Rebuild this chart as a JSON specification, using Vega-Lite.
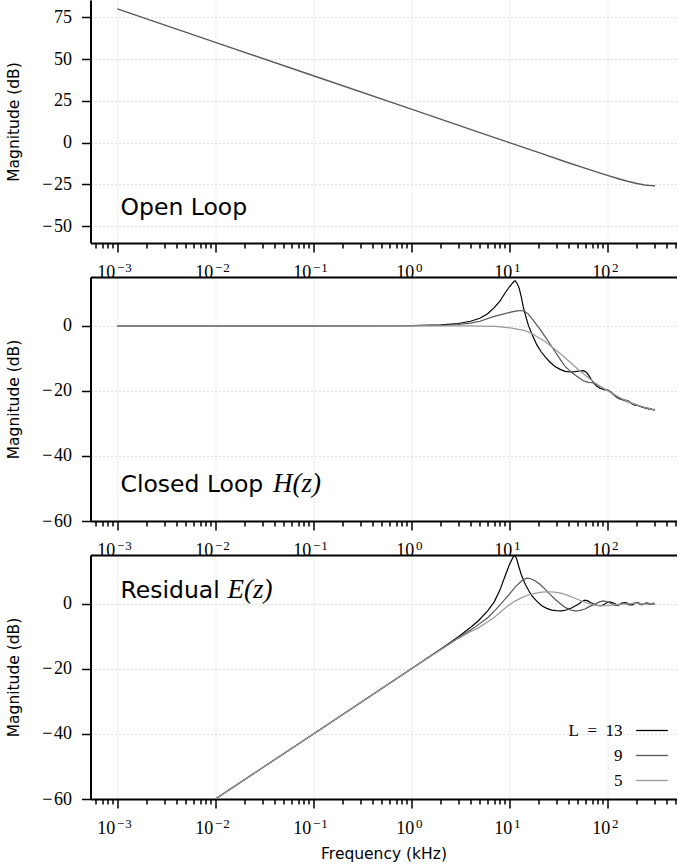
{
  "$schema": "https://vega.github.io/schema/vega-lite/v6.json",
  "background": "white",
  "padding": {"left": 5.5, "top": 0, "right": 0, "bottom": 3},
  "spacing": 34,
  "bounds": "flush",
  "resolve": {"scale": {"color": "independent"}},
  "datasets": {
    "open": [
      {"f": 0.001, "db": 80}, {"f": 0.01, "db": 60}, {"f": 0.1, "db": 40}, {"f": 1, "db": 20},
      {"f": 5, "db": 6.0}, {"f": 10, "db": 0.0}, {"f": 20, "db": -6.0}, {"f": 40, "db": -12.0},
      {"f": 60, "db": -15.4}, {"f": 80, "db": -17.8}, {"f": 100, "db": -19.6}, {"f": 130, "db": -21.6},
      {"f": 160, "db": -23.1}, {"f": 200, "db": -24.4}, {"f": 240, "db": -25.3}, {"f": 280, "db": -25.7},
      {"f": 306, "db": -25.8}
    ],
    "closed": [
      {"L": "13", "f": 0.001, "db": 0}, {"L": "13", "f": 0.1, "db": 0}, {"L": "13", "f": 1, "db": 0.05},
      {"L": "13", "f": 2, "db": 0.3}, {"L": "13", "f": 3, "db": 0.7}, {"L": "13", "f": 4, "db": 1.4},
      {"L": "13", "f": 5, "db": 2.3}, {"L": "13", "f": 6, "db": 3.7}, {"L": "13", "f": 7, "db": 5.6},
      {"L": "13", "f": 8, "db": 7.6}, {"L": "13", "f": 9, "db": 10.0}, {"L": "13", "f": 10, "db": 12.0},
      {"L": "13", "f": 10.6, "db": 12.9}, {"L": "13", "f": 11.1, "db": 13.6}, {"L": "13", "f": 11.45, "db": 13.85},
      {"L": "13", "f": 12.0, "db": 13.0}, {"L": "13", "f": 12.6, "db": 11.5}, {"L": "13", "f": 13.3, "db": 8.5},
      {"L": "13", "f": 13.9, "db": 5.6}, {"L": "13", "f": 15, "db": 2.0}, {"L": "13", "f": 15.6, "db": 0.2},
      {"L": "13", "f": 17, "db": -2.6}, {"L": "13", "f": 19, "db": -5.8}, {"L": "13", "f": 21, "db": -7.9},
      {"L": "13", "f": 23.1, "db": -9.5}, {"L": "13", "f": 26, "db": -11.2}, {"L": "13", "f": 29.2, "db": -12.5},
      {"L": "13", "f": 33, "db": -13.4}, {"L": "13", "f": 37, "db": -14.0}, {"L": "13", "f": 42, "db": -14.2},
      {"L": "13", "f": 47, "db": -14.1}, {"L": "13", "f": 52, "db": -13.9}, {"L": "13", "f": 57, "db": -13.8},
      {"L": "13", "f": 61, "db": -14.3}, {"L": "13", "f": 64, "db": -15.1}, {"L": "13", "f": 68, "db": -16.4},
      {"L": "13", "f": 72, "db": -17.5}, {"L": "13", "f": 78, "db": -18.6}, {"L": "13", "f": 84, "db": -19.2},
      {"L": "13", "f": 92, "db": -19.6}, {"L": "13", "f": 102, "db": -19.8}, {"L": "13", "f": 110, "db": -20.6},
      {"L": "13", "f": 120, "db": -21.6}, {"L": "13", "f": 130, "db": -22.3}, {"L": "13", "f": 140, "db": -22.6},
      {"L": "13", "f": 152, "db": -22.8}, {"L": "13", "f": 164, "db": -23.1}, {"L": "13", "f": 176, "db": -23.9},
      {"L": "13", "f": 190, "db": -24.4}, {"L": "13", "f": 205, "db": -24.5}, {"L": "13", "f": 220, "db": -24.9},
      {"L": "13", "f": 235, "db": -25.2}, {"L": "13", "f": 250, "db": -25.3}, {"L": "13", "f": 265, "db": -25.6},
      {"L": "13", "f": 280, "db": -25.5}, {"L": "13", "f": 295, "db": -25.9}, {"L": "13", "f": 306, "db": -25.6},

      {"L": "9", "f": 0.001, "db": 0}, {"L": "9", "f": 0.1, "db": 0}, {"L": "9", "f": 1, "db": 0.02},
      {"L": "9", "f": 2, "db": 0.15}, {"L": "9", "f": 3, "db": 0.4}, {"L": "9", "f": 4, "db": 0.8},
      {"L": "9", "f": 5, "db": 1.4}, {"L": "9", "f": 7, "db": 2.9}, {"L": "9", "f": 10.6, "db": 4.3},
      {"L": "9", "f": 12, "db": 4.6}, {"L": "9", "f": 13.4, "db": 4.7}, {"L": "9", "f": 14.5, "db": 4.3},
      {"L": "9", "f": 15.6, "db": 3.6}, {"L": "9", "f": 17, "db": 2.2}, {"L": "9", "f": 19, "db": 0.3},
      {"L": "9", "f": 21, "db": -1.5}, {"L": "9", "f": 23.1, "db": -3.3}, {"L": "9", "f": 26, "db": -5.6},
      {"L": "9", "f": 29.2, "db": -7.9}, {"L": "9", "f": 33, "db": -10.3}, {"L": "9", "f": 37, "db": -12.5},
      {"L": "9", "f": 42, "db": -14.0}, {"L": "9", "f": 46.8, "db": -15.1}, {"L": "9", "f": 52, "db": -16.1},
      {"L": "9", "f": 57, "db": -16.9}, {"L": "9", "f": 64, "db": -17.4}, {"L": "9", "f": 70, "db": -17.5},
      {"L": "9", "f": 76, "db": -17.8}, {"L": "9", "f": 84, "db": -18.6}, {"L": "9", "f": 91, "db": -19.2},
      {"L": "9", "f": 100, "db": -19.8}, {"L": "9", "f": 110, "db": -20.4}, {"L": "9", "f": 122, "db": -21.6},
      {"L": "9", "f": 134, "db": -22.5}, {"L": "9", "f": 150, "db": -23.0}, {"L": "9", "f": 165, "db": -23.5},
      {"L": "9", "f": 180, "db": -23.9}, {"L": "9", "f": 200, "db": -24.4}, {"L": "9", "f": 220, "db": -24.8},
      {"L": "9", "f": 242, "db": -25.1}, {"L": "9", "f": 265, "db": -25.4}, {"L": "9", "f": 285, "db": -25.7},
      {"L": "9", "f": 306, "db": -25.8},

      {"L": "5", "f": 0.001, "db": 0}, {"L": "5", "f": 1, "db": 0}, {"L": "5", "f": 2, "db": -0.02},
      {"L": "5", "f": 4, "db": -0.05}, {"L": "5", "f": 5, "db": -0.1}, {"L": "5", "f": 7.15, "db": -0.2},
      {"L": "5", "f": 10.6, "db": -0.7}, {"L": "5", "f": 14.5, "db": -1.5}, {"L": "5", "f": 17, "db": -2.4},
      {"L": "5", "f": 19, "db": -3.3}, {"L": "5", "f": 23.1, "db": -4.8}, {"L": "5", "f": 28, "db": -6.8},
      {"L": "5", "f": 34.2, "db": -8.9}, {"L": "5", "f": 42, "db": -11.3}, {"L": "5", "f": 50.7, "db": -13.5},
      {"L": "5", "f": 62, "db": -15.6}, {"L": "5", "f": 74.8, "db": -17.6}, {"L": "5", "f": 90, "db": -19.2},
      {"L": "5", "f": 110.6, "db": -20.7}, {"L": "5", "f": 135, "db": -22.1}, {"L": "5", "f": 164, "db": -23.3},
      {"L": "5", "f": 200, "db": -24.3}, {"L": "5", "f": 242, "db": -25.1}, {"L": "5", "f": 280, "db": -25.6},
      {"L": "5", "f": 306, "db": -25.8}
    ],
    "resid": [
      {"L": "13", "f": 0.001, "db": -80}, {"L": "13", "f": 0.01, "db": -60}, {"L": "13", "f": 0.1, "db": -40},
      {"L": "13", "f": 1, "db": -20}, {"L": "13", "f": 2, "db": -13.9}, {"L": "13", "f": 3, "db": -10.2},
      {"L": "13", "f": 4, "db": -7.3}, {"L": "13", "f": 4.83, "db": -5.2}, {"L": "13", "f": 6, "db": -2.2},
      {"L": "13", "f": 7, "db": 0.6}, {"L": "13", "f": 8, "db": 4.2}, {"L": "13", "f": 9, "db": 8.4},
      {"L": "13", "f": 10, "db": 12.0}, {"L": "13", "f": 10.6, "db": 13.6}, {"L": "13", "f": 11.2, "db": 15.0},
      {"L": "13", "f": 11.8, "db": 14.0}, {"L": "13", "f": 12.4, "db": 11.7}, {"L": "13", "f": 13.2, "db": 9.0},
      {"L": "13", "f": 14.5, "db": 6.0}, {"L": "13", "f": 16, "db": 3.7}, {"L": "13", "f": 16.9, "db": 2.5},
      {"L": "13", "f": 19, "db": 0.8}, {"L": "13", "f": 21.4, "db": -0.6}, {"L": "13", "f": 24, "db": -1.4},
      {"L": "13", "f": 27, "db": -1.95}, {"L": "13", "f": 30, "db": -2.1}, {"L": "13", "f": 34.2, "db": -2.15},
      {"L": "13", "f": 38, "db": -1.9}, {"L": "13", "f": 43, "db": -1.3}, {"L": "13", "f": 50, "db": -0.2},
      {"L": "13", "f": 55, "db": 0.7}, {"L": "13", "f": 59, "db": 1.1}, {"L": "13", "f": 63, "db": 0.9},
      {"L": "13", "f": 68, "db": 0.3}, {"L": "13", "f": 75, "db": -0.3}, {"L": "13", "f": 81, "db": -0.6},
      {"L": "13", "f": 87, "db": -0.6}, {"L": "13", "f": 95, "db": 0.0}, {"L": "13", "f": 100, "db": 0.4},
      {"L": "13", "f": 106, "db": 0.6}, {"L": "13", "f": 112, "db": 0.4}, {"L": "13", "f": 118, "db": 0.1},
      {"L": "13", "f": 124, "db": -0.3}, {"L": "13", "f": 129, "db": -0.4}, {"L": "13", "f": 135, "db": -0.2},
      {"L": "13", "f": 140, "db": 0.1}, {"L": "13", "f": 146, "db": 0.35}, {"L": "13", "f": 152, "db": 0.4},
      {"L": "13", "f": 158, "db": 0.2}, {"L": "13", "f": 165, "db": -0.1}, {"L": "13", "f": 172, "db": -0.3},
      {"L": "13", "f": 180, "db": -0.3}, {"L": "13", "f": 188, "db": 0.0}, {"L": "13", "f": 195, "db": 0.2},
      {"L": "13", "f": 203, "db": 0.3}, {"L": "13", "f": 210, "db": 0.2}, {"L": "13", "f": 218, "db": -0.1},
      {"L": "13", "f": 225, "db": -0.2}, {"L": "13", "f": 233, "db": -0.2}, {"L": "13", "f": 240, "db": 0.0},
      {"L": "13", "f": 248, "db": 0.2}, {"L": "13", "f": 255, "db": 0.2}, {"L": "13", "f": 263, "db": 0.0},
      {"L": "13", "f": 270, "db": -0.2}, {"L": "13", "f": 278, "db": -0.2}, {"L": "13", "f": 285, "db": 0.0},
      {"L": "13", "f": 292, "db": 0.2}, {"L": "13", "f": 300, "db": 0.1}, {"L": "13", "f": 306, "db": 0.0},

      {"L": "9", "f": 0.001, "db": -80}, {"L": "9", "f": 0.01, "db": -60}, {"L": "9", "f": 0.1, "db": -40},
      {"L": "9", "f": 1, "db": -20}, {"L": "9", "f": 2, "db": -14.0}, {"L": "9", "f": 3, "db": -10.5},
      {"L": "9", "f": 4, "db": -8.1}, {"L": "9", "f": 4.83, "db": -6.4}, {"L": "9", "f": 6, "db": -4.3},
      {"L": "9", "f": 7.14, "db": -2.0}, {"L": "9", "f": 8.5, "db": 0.5}, {"L": "9", "f": 10, "db": 3.0},
      {"L": "9", "f": 11.5, "db": 5.2}, {"L": "9", "f": 13.4, "db": 7.1}, {"L": "9", "f": 15, "db": 7.9},
      {"L": "9", "f": 16.5, "db": 7.7}, {"L": "9", "f": 18.3, "db": 7.1}, {"L": "9", "f": 20.5, "db": 6.0},
      {"L": "9", "f": 23.1, "db": 4.5}, {"L": "9", "f": 26, "db": 2.9}, {"L": "9", "f": 29.2, "db": 1.4},
      {"L": "9", "f": 33, "db": 0.1}, {"L": "9", "f": 37, "db": -1.1}, {"L": "9", "f": 42, "db": -1.9},
      {"L": "9", "f": 46.8, "db": -2.15}, {"L": "9", "f": 52, "db": -2.1}, {"L": "9", "f": 59, "db": -1.6},
      {"L": "9", "f": 66, "db": -0.8}, {"L": "9", "f": 75, "db": -0.1}, {"L": "9", "f": 83, "db": 0.6},
      {"L": "9", "f": 91, "db": 0.9}, {"L": "9", "f": 100, "db": 0.6}, {"L": "9", "f": 110, "db": 0.1},
      {"L": "9", "f": 116, "db": -0.3}, {"L": "9", "f": 122, "db": -0.6}, {"L": "9", "f": 128, "db": -0.5},
      {"L": "9", "f": 134, "db": -0.1}, {"L": "9", "f": 140, "db": 0.3}, {"L": "9", "f": 146, "db": 0.3},
      {"L": "9", "f": 152, "db": 0.1}, {"L": "9", "f": 160, "db": -0.2}, {"L": "9", "f": 168, "db": -0.3},
      {"L": "9", "f": 176, "db": -0.1}, {"L": "9", "f": 185, "db": 0.2}, {"L": "9", "f": 195, "db": 0.3},
      {"L": "9", "f": 205, "db": 0.1}, {"L": "9", "f": 215, "db": -0.2}, {"L": "9", "f": 225, "db": -0.3},
      {"L": "9", "f": 237, "db": -0.1}, {"L": "9", "f": 250, "db": 0.2}, {"L": "9", "f": 262, "db": 0.2},
      {"L": "9", "f": 275, "db": 0.0}, {"L": "9", "f": 290, "db": -0.2}, {"L": "9", "f": 306, "db": 0.0},

      {"L": "5", "f": 0.001, "db": -80}, {"L": "5", "f": 0.01, "db": -60}, {"L": "5", "f": 0.1, "db": -40},
      {"L": "5", "f": 1, "db": -20}, {"L": "5", "f": 2, "db": -14.1}, {"L": "5", "f": 3, "db": -10.7},
      {"L": "5", "f": 4, "db": -8.6}, {"L": "5", "f": 4.83, "db": -7.4}, {"L": "5", "f": 6, "db": -5.6},
      {"L": "5", "f": 7.14, "db": -4.0}, {"L": "5", "f": 8.5, "db": -2.0}, {"L": "5", "f": 10, "db": -0.3},
      {"L": "5", "f": 11.5, "db": 0.9}, {"L": "5", "f": 13.4, "db": 1.9}, {"L": "5", "f": 15.6, "db": 2.7},
      {"L": "5", "f": 18.3, "db": 3.2}, {"L": "5", "f": 21.5, "db": 3.6}, {"L": "5", "f": 25, "db": 3.7},
      {"L": "5", "f": 29, "db": 3.6}, {"L": "5", "f": 34.2, "db": 3.2}, {"L": "5", "f": 40, "db": 2.5},
      {"L": "5", "f": 46.8, "db": 1.7}, {"L": "5", "f": 55, "db": 0.8}, {"L": "5", "f": 64, "db": 0.1},
      {"L": "5", "f": 75, "db": -0.4}, {"L": "5", "f": 87, "db": -0.6}, {"L": "5", "f": 98, "db": -0.6},
      {"L": "5", "f": 110, "db": -0.4}, {"L": "5", "f": 125, "db": -0.2}, {"L": "5", "f": 140, "db": -0.1},
      {"L": "5", "f": 160, "db": 0.0}, {"L": "5", "f": 180, "db": 0.1}, {"L": "5", "f": 200, "db": 0.1},
      {"L": "5", "f": 220, "db": 0.0}, {"L": "5", "f": 240, "db": -0.1}, {"L": "5", "f": 260, "db": -0.1},
      {"L": "5", "f": 280, "db": 0.0}, {"L": "5", "f": 306, "db": 0.0}
    ]
  },
  "vconcat": [
    {
      "width": 586,
      "height": 243,
      "layer": [
        {
          "layer": [
            {
              "data": {"name": "open"},
              "mark": {"type": "line", "color": "#5a5a5a", "strokeWidth": 1.4, "clip": true},
              "encoding": {
                "x": {"field": "f", "type": "quantitative",
                  "scale": {"type": "log", "domain": [0.0005316, 507.1], "nice": false},
                  "axis": {"title": null, "orient": "bottom",
                    "values": [0.0006,0.0007,0.0008,0.0009,0.001,0.002,0.003,0.004,0.005,0.006,0.007,0.008,0.009,0.01,0.02,0.03,0.04,0.05,0.06,0.07,0.08,0.09,0.1,0.2,0.3,0.4,0.5,0.6,0.7,0.8,0.9,1,2,3,4,5,6,7,8,9,10,20,30,40,50,60,70,80,90,100,200,300,400,500],
                    "labelExpr": "abs(log(datum.value)/LN10 - round(log(datum.value)/LN10)) < 0.01 ? '10' : ''",
                    "labelAlign": "right",
                    "labelOffset": {"condition": {"test": "datum.value < 0.5", "value": -2.6}, "value": 2.3},
                    "tickSize": {"condition": {"test": "abs(log(datum.value)/LN10 - round(log(datum.value)/LN10)) < 0.01", "value": 9}, "value": 5},
                    "gridOpacity": {"condition": {"test": "abs(log(datum.value)/LN10 - round(log(datum.value)/LN10)) < 0.01", "value": 1}, "value": 0},
                    "labelOverlap": false, "labelFlush": false, "labelBound": false}},
                "y": {"field": "db", "type": "quantitative",
                  "scale": {"domain": [-60, 85.3], "nice": false, "zero": false},
                  "axis": {"title": "Magnitude (dB)", "values": [-50, -25, 0, 25, 50, 75]}}
              }
            },
            {
              "data": {"values": [{}]},
              "mark": {"type": "text", "text": "Open Loop", "font": "DejaVu Sans", "fontSize": 23.5, "align": "left", "baseline": "alphabetic", "color": "#000"},
              "encoding": {
                "x": {"datum": 0.001076, "type": "quantitative", "scale": {"type": "log", "domain": [0.0005316, 507.1], "nice": false}},
                "y": {"datum": -43, "type": "quantitative", "scale": {"domain": [-60, 85.3], "nice": false, "zero": false}}
              }
            }
          ]
        },
        {
          "data": {"values": [{}]},
          "mark": {"type": "text", "text": ""},
          "encoding": {
            "x": {"datum": 1, "type": "quantitative", "scale": {"type": "log", "domain": [0.0005316, 507.1], "nice": false},
              "axis": {"orient": "bottom", "title": null, "domain": false, "grid": false, "ticks": true, "tickOpacity": 0, "tickSize": 9,
                "values": [0.001, 0.01, 0.1, 1, 10, 100],
                "labelExpr": "['−\u200a3','−\u200a2','−\u200a1','0','1','2'][round(log(datum.value)/LN10)+3]",
                "labelAlign": "left", "labelFontSize": 13, "labelPadding": 9,
                "labelOffset": {"condition": {"test": "datum.value < 0.5", "value": -1}, "value": 4},
                "labelOverlap": false, "labelFlush": false, "labelBound": false}},
            "y": {"datum": 0, "type": "quantitative", "scale": {"domain": [-60, 85.3], "nice": false, "zero": false}}
          }
        }
      ],
      "resolve": {"axis": {"x": "independent"}}
    },
    {
      "width": 586,
      "height": 244,
      "layer": [
        {
          "layer": [
            {
              "data": {"name": "closed"},
              "mark": {"type": "line", "strokeWidth": 1.2, "clip": true},
              "encoding": {
                "x": {"field": "f", "type": "quantitative",
                  "scale": {"type": "log", "domain": [0.0005316, 507.1], "nice": false},
                  "axis": {"title": null, "orient": "bottom",
                    "values": [0.0006,0.0007,0.0008,0.0009,0.001,0.002,0.003,0.004,0.005,0.006,0.007,0.008,0.009,0.01,0.02,0.03,0.04,0.05,0.06,0.07,0.08,0.09,0.1,0.2,0.3,0.4,0.5,0.6,0.7,0.8,0.9,1,2,3,4,5,6,7,8,9,10,20,30,40,50,60,70,80,90,100,200,300,400,500],
                    "labelExpr": "abs(log(datum.value)/LN10 - round(log(datum.value)/LN10)) < 0.01 ? '10' : ''",
                    "labelAlign": "right",
                    "labelOffset": {"condition": {"test": "datum.value < 0.5", "value": -2.6}, "value": 2.3},
                    "tickSize": {"condition": {"test": "abs(log(datum.value)/LN10 - round(log(datum.value)/LN10)) < 0.01", "value": 9}, "value": 5},
                    "gridOpacity": {"condition": {"test": "abs(log(datum.value)/LN10 - round(log(datum.value)/LN10)) < 0.01", "value": 1}, "value": 0},
                    "labelOverlap": false, "labelFlush": false, "labelBound": false}},
                "y": {"field": "db", "type": "quantitative",
                  "scale": {"domain": [-60, 15], "nice": false, "zero": false},
                  "axis": {"title": "Magnitude (dB)", "values": [-60, -40, -20, 0]}},
                "color": {"field": "L", "type": "nominal",
                  "scale": {"domain": ["13", "9", "5"], "range": ["#000000", "#555555", "#999999"]},
                  "legend": null}
              }
            },
            {
              "data": {"values": [{}]},
              "mark": {"type": "text", "text": "Closed Loop", "font": "DejaVu Sans", "fontSize": 23.5, "align": "left", "baseline": "alphabetic", "color": "#000"},
              "encoding": {
                "x": {"datum": 0.001076, "type": "quantitative", "scale": {"type": "log", "domain": [0.0005316, 507.1], "nice": false}},
                "y": {"datum": -51, "type": "quantitative", "scale": {"domain": [-60, 15], "nice": false, "zero": false}}
              }
            },
            {
              "data": {"values": [{}]},
              "mark": {"type": "text", "text": "H(z)", "font": "Liberation Serif", "fontStyle": "italic", "fontSize": 27, "align": "left", "baseline": "alphabetic", "color": "#000"},
              "encoding": {
                "x": {"datum": 0.0387, "type": "quantitative", "scale": {"type": "log", "domain": [0.0005316, 507.1], "nice": false}},
                "y": {"datum": -51, "type": "quantitative", "scale": {"domain": [-60, 15], "nice": false, "zero": false}}
              }
            }
          ]
        },
        {
          "data": {"values": [{}]},
          "mark": {"type": "rule", "strokeOpacity": 0},
          "encoding": {
            "x": {"datum": 1, "type": "quantitative", "scale": {"type": "log", "domain": [0.0005316, 507.1], "nice": false},
              "axis": {"orient": "top", "domain": true, "ticks": false, "labels": false, "grid": false, "title": null}}
          }
        },
        {
          "data": {"values": [{}]},
          "mark": {"type": "text", "text": ""},
          "encoding": {
            "x": {"datum": 1, "type": "quantitative", "scale": {"type": "log", "domain": [0.0005316, 507.1], "nice": false},
              "axis": {"orient": "bottom", "title": null, "domain": false, "grid": false, "ticks": true, "tickOpacity": 0, "tickSize": 9,
                "values": [0.001, 0.01, 0.1, 1, 10, 100],
                "labelExpr": "['−\u200a3','−\u200a2','−\u200a1','0','1','2'][round(log(datum.value)/LN10)+3]",
                "labelAlign": "left", "labelFontSize": 13, "labelPadding": 9,
                "labelOffset": {"condition": {"test": "datum.value < 0.5", "value": -1}, "value": 4},
                "labelOverlap": false, "labelFlush": false, "labelBound": false}},
            "y": {"datum": 0, "type": "quantitative", "scale": {"domain": [-60, 15], "nice": false, "zero": false}}
          }
        }
      ],
      "resolve": {"axis": {"x": "independent"}}
    },
    {
      "width": 586,
      "height": 244,
      "layer": [
        {
          "layer": [
            {
              "data": {"name": "resid"},
              "mark": {"type": "line", "strokeWidth": 1.2, "clip": true},
              "encoding": {
                "x": {"field": "f", "type": "quantitative",
                  "scale": {"type": "log", "domain": [0.0005316, 507.1], "nice": false},
                  "axis": {"title": "Frequency (kHz)", "orient": "bottom",
                    "values": [0.0006,0.0007,0.0008,0.0009,0.001,0.002,0.003,0.004,0.005,0.006,0.007,0.008,0.009,0.01,0.02,0.03,0.04,0.05,0.06,0.07,0.08,0.09,0.1,0.2,0.3,0.4,0.5,0.6,0.7,0.8,0.9,1,2,3,4,5,6,7,8,9,10,20,30,40,50,60,70,80,90,100,200,300,400,500],
                    "labelExpr": "abs(log(datum.value)/LN10 - round(log(datum.value)/LN10)) < 0.01 ? '10' : ''",
                    "labelAlign": "right",
                    "labelOffset": {"condition": {"test": "datum.value < 0.5", "value": -2.6}, "value": 2.3},
                    "tickSize": {"condition": {"test": "abs(log(datum.value)/LN10 - round(log(datum.value)/LN10)) < 0.01", "value": 9}, "value": 5},
                    "gridOpacity": {"condition": {"test": "abs(log(datum.value)/LN10 - round(log(datum.value)/LN10)) < 0.01", "value": 1}, "value": 0},
                    "labelOverlap": false, "labelFlush": false, "labelBound": false}},
                "y": {"field": "db", "type": "quantitative",
                  "scale": {"domain": [-60, 15], "nice": false, "zero": false},
                  "axis": {"title": "Magnitude (dB)", "values": [-60, -40, -20, 0]}},
                "color": {"field": "L", "type": "nominal",
                  "scale": {"domain": ["13", "9", "5"], "range": ["#000000", "#555555", "#999999"]},
                  "legend": {"orient": "none", "legendX": 545, "legendY": 159, "title": null,
                    "symbolType": "stroke", "symbolSize": 1000, "symbolStrokeWidth": 1.3,
                    "labelFont": "Liberation Serif", "labelFontSize": 17, "labelColor": "#000",
                    "labelAlign": "right", "labelOffset": -46, "rowPadding": -8, "padding": 0,
                    "labelLimit": 200,
                    "labelExpr": "datum.label == '13' ? 'L\u2002=\u200213' : datum.label"}}
              }
            },
            {
              "data": {"values": [{}]},
              "mark": {"type": "text", "text": "Residual", "font": "DejaVu Sans", "fontSize": 23.5, "align": "left", "baseline": "alphabetic", "color": "#000"},
              "encoding": {
                "x": {"datum": 0.001076, "type": "quantitative", "scale": {"type": "log", "domain": [0.0005316, 507.1], "nice": false}},
                "y": {"datum": 1.75, "type": "quantitative", "scale": {"domain": [-60, 15], "nice": false, "zero": false}}
              }
            },
            {
              "data": {"values": [{}]},
              "mark": {"type": "text", "text": "E(z)", "font": "Liberation Serif", "fontStyle": "italic", "fontSize": 27, "align": "left", "baseline": "alphabetic", "color": "#000"},
              "encoding": {
                "x": {"datum": 0.01328, "type": "quantitative", "scale": {"type": "log", "domain": [0.0005316, 507.1], "nice": false}},
                "y": {"datum": 1.75, "type": "quantitative", "scale": {"domain": [-60, 15], "nice": false, "zero": false}}
              }
            }
          ]
        },
        {
          "data": {"values": [{}]},
          "mark": {"type": "rule", "strokeOpacity": 0},
          "encoding": {
            "x": {"datum": 1, "type": "quantitative", "scale": {"type": "log", "domain": [0.0005316, 507.1], "nice": false},
              "axis": {"orient": "top", "domain": true, "ticks": false, "labels": false, "grid": false, "title": null}}
          }
        },
        {
          "data": {"values": [{}]},
          "mark": {"type": "text", "text": ""},
          "encoding": {
            "x": {"datum": 1, "type": "quantitative", "scale": {"type": "log", "domain": [0.0005316, 507.1], "nice": false},
              "axis": {"orient": "bottom", "title": null, "domain": false, "grid": false, "ticks": true, "tickOpacity": 0, "tickSize": 9,
                "values": [0.001, 0.01, 0.1, 1, 10, 100],
                "labelExpr": "['−\u200a3','−\u200a2','−\u200a1','0','1','2'][round(log(datum.value)/LN10)+3]",
                "labelAlign": "left", "labelFontSize": 13, "labelPadding": 9,
                "labelOffset": {"condition": {"test": "datum.value < 0.5", "value": -1}, "value": 4},
                "labelOverlap": false, "labelFlush": false, "labelBound": false}},
            "y": {"datum": 0, "type": "quantitative", "scale": {"domain": [-60, 15], "nice": false, "zero": false}}
          }
        }
      ],
      "resolve": {"axis": {"x": "independent"}}
    }
  ],
  "config": {
    "view": {"stroke": null},
    "axis": {
      "domainColor": "#000000", "domainWidth": 2,
      "tickColor": "#000000", "tickWidth": 1.5, "tickSize": 9,
      "labelFont": "Liberation Serif", "labelFontSize": 18, "labelColor": "#000000",
      "titleFont": "DejaVu Sans", "titleFontSize": 15.5, "titleFontWeight": "normal", "titleColor": "#000000",
      "grid": true, "gridColor": "#d8d8d8", "gridDash": [2, 2], "gridWidth": 0.8
    },
    "axisLeft": {"labelPadding": 10, "titleX": -77, "titleBaseline": "middle",
      "labelExpr": "replace(datum.label, '−', '−\u200a')"},
    "axisBottom": {"labelPadding": 11, "titleY": 59, "titleBaseline": "alphabetic"},
    "axisTop": {"domainColor": "#000000", "domainWidth": 2}
  }
}
